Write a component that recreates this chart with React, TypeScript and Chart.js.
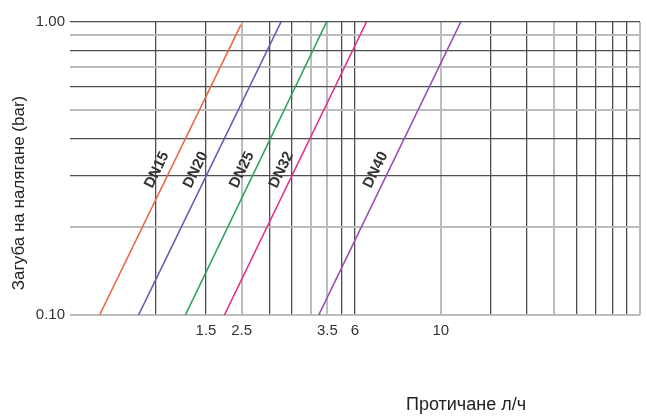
import React, { useEffect, useRef } from 'react';
import { Chart, registerables } from 'chart.js';

Chart.register(...registerables);

// ---- data ----
const seriesNames = ['DN15', 'DN20', 'DN25', 'DN32', 'DN40'];
const seriesColors = ['#e8694a', '#6a58b8', '#2ea25c', '#e2338a', '#9a4cb2'];
const flowStart = [1.27, 1.74, 2.54, 3.48, 7.46];
const flowEnd = [3.98, 5.5, 7.95, 10.97, 23.5];
const pressureStart = [0.1, 0.1, 0.1, 0.1, 0.1];
const pressureEnd = [0.98, 1.0, 1.0, 1.0, 1.0];
const labelPressure = 0.3;

const xGridValues = [2, 3, 4, 5, 6, 7, 8, 9, 10, 20, 30, 40, 50, 60, 70, 80, 90, 100];
const xLightGrid = [4, 7, 8, 20, 50, 100];
const xTickValues = [3, 4, 8, 10, 20];
const xTickLabels = ['1.5', '2.5', '3.5', '6', '10'];

const yGridValues = [0.1, 0.2, 0.3, 0.4, 0.5, 0.6, 0.7, 0.8, 0.9, 1.0];
const yLightGrid = [0.1, 0.2, 0.5, 0.7, 0.9];
const yTickValues = [0.1, 1.0];
const yTickLabels = ['0.10', '1.00'];

const yTitle = 'Загуба на налягане (bar)';
const xTitle = 'Протичане л/ч';

const FONT = "'Liberation Sans', Arial, Helvetica, sans-serif";
const near = (a: number, b: number) => Math.abs(a - b) < 1e-6 * Math.max(1, Math.abs(b));
const inList = (list: number[], v: number) => list.some((x) => near(x, v));

const DARK = '#4e4e4e';
const LIGHT = '#bcbcbc';

export default function App() {
  const ref = useRef<HTMLCanvasElement | null>(null);

  useEffect(() => {
    if (!ref.current) return;

    const labelsPlugin = {
      id: 'seriesLabels',
      afterDatasetsDraw(chart: any) {
        const ctx = chart.ctx;
        const yScale = chart.scales.y;
        ctx.save();
        ctx.font = `bold 15px ${FONT}`;
        ctx.fillStyle = '#333333';
        ctx.textAlign = 'center';
        ctx.textBaseline = 'middle';
        seriesNames.forEach((name, i) => {
          const meta = chart.getDatasetMeta(i);
          const p0 = meta.data[0];
          const p1 = meta.data[1];
          if (!p0 || !p1) return;
          const py = yScale.getPixelForValue(labelPressure);
          const t = (py - p0.y) / (p1.y - p0.y);
          const px = p0.x + t * (p1.x - p0.x);
          const ang = Math.atan2(p1.y - p0.y, p1.x - p0.x);
          ctx.save();
          ctx.translate(px, py);
          ctx.rotate(ang);
          ctx.fillText(name, 0, -12);
          ctx.restore();
        });
        ctx.restore();
      },
    };

    const titlesPlugin = {
      id: 'axisTitles',
      afterDraw(chart: any) {
        const ctx = chart.ctx;
        const area = chart.chartArea;
        ctx.save();
        ctx.fillStyle = '#222222';
        ctx.font = `17px ${FONT}`;
        ctx.textAlign = 'center';
        ctx.textBaseline = 'middle';
        ctx.translate(19, area.top + 171);
        ctx.rotate(-Math.PI / 2);
        ctx.fillText(yTitle, 0, 0);
        ctx.restore();
        ctx.save();
        ctx.fillStyle = '#222222';
        ctx.font = `18px ${FONT}`;
        ctx.textAlign = 'center';
        ctx.textBaseline = 'middle';
        ctx.fillText(xTitle, 466, 405);
        ctx.restore();
      },
    };

    const chart = new Chart(ref.current, {
      type: 'line',
      data: {
        datasets: seriesNames.map((name, i) => ({
          label: name,
          data: [
            { x: flowStart[i], y: pressureStart[i] },
            { x: flowEnd[i], y: pressureEnd[i] },
          ],
          borderColor: seriesColors[i],
          backgroundColor: seriesColors[i],
          borderWidth: 1.6,
          pointRadius: 0,
          tension: 0,
        })),
      },
      options: {
        animation: false,
        responsive: false,
        layout: { padding: { left: 8, top: 22, right: 4, bottom: 0 } },
        plugins: {
          legend: { display: false },
          tooltip: { enabled: false },
          title: { display: false },
        },
        scales: {
          x: {
            type: 'logarithmic',
            min: 1,
            max: 100,
            border: { display: false },
            afterBuildTicks: (scale: any) => {
              scale.ticks = xGridValues.map((v) => ({ value: v }));
            },
            afterFit: (scale: any) => {
              scale.height = 101;
            },
            grid: {
              drawTicks: false,
              color: (c: any) => (c.tick && inList(xLightGrid, c.tick.value) ? LIGHT : DARK),
              lineWidth: (c: any) => (c.tick && inList(xLightGrid, c.tick.value) ? 2 : 1.3),
            },
            ticks: {
              autoSkip: false,
              maxRotation: 0,
              padding: 7,
              color: '#333333',
              font: { family: FONT, size: 15 },
              callback: (value: any) => {
                const idx = xTickValues.findIndex((v) => near(v, Number(value)));
                return idx >= 0 ? xTickLabels[idx] : '';
              },
            },
          },
          y: {
            type: 'logarithmic',
            min: 0.1,
            max: 1.0,
            border: { display: false },
            afterBuildTicks: (scale: any) => {
              scale.ticks = yGridValues.map((v) => ({ value: v }));
            },
            afterFit: (scale: any) => {
              scale.width = 62;
            },
            grid: {
              drawTicks: false,
              color: (c: any) => (c.tick && inList(yLightGrid, c.tick.value) ? LIGHT : DARK),
              lineWidth: (c: any) => (c.tick && inList(yLightGrid, c.tick.value) ? 2 : 1.3),
            },
            ticks: {
              autoSkip: false,
              padding: 5,
              color: '#333333',
              font: { family: FONT, size: 15 },
              callback: (value: any) => {
                const idx = yTickValues.findIndex((v) => near(v, Number(value)));
                return idx >= 0 ? yTickLabels[idx] : '';
              },
            },
          },
        },
      },
      plugins: [labelsPlugin, titlesPlugin],
    } as any);

    return () => chart.destroy();
  }, []);

  return (
    <div style={{ position: 'fixed', left: 0, top: 0, width: 647, height: 416, background: '#ffffff' }}>
      <canvas ref={ref} width={647} height={416} style={{ display: 'block' }} />
    </div>
  );
}
